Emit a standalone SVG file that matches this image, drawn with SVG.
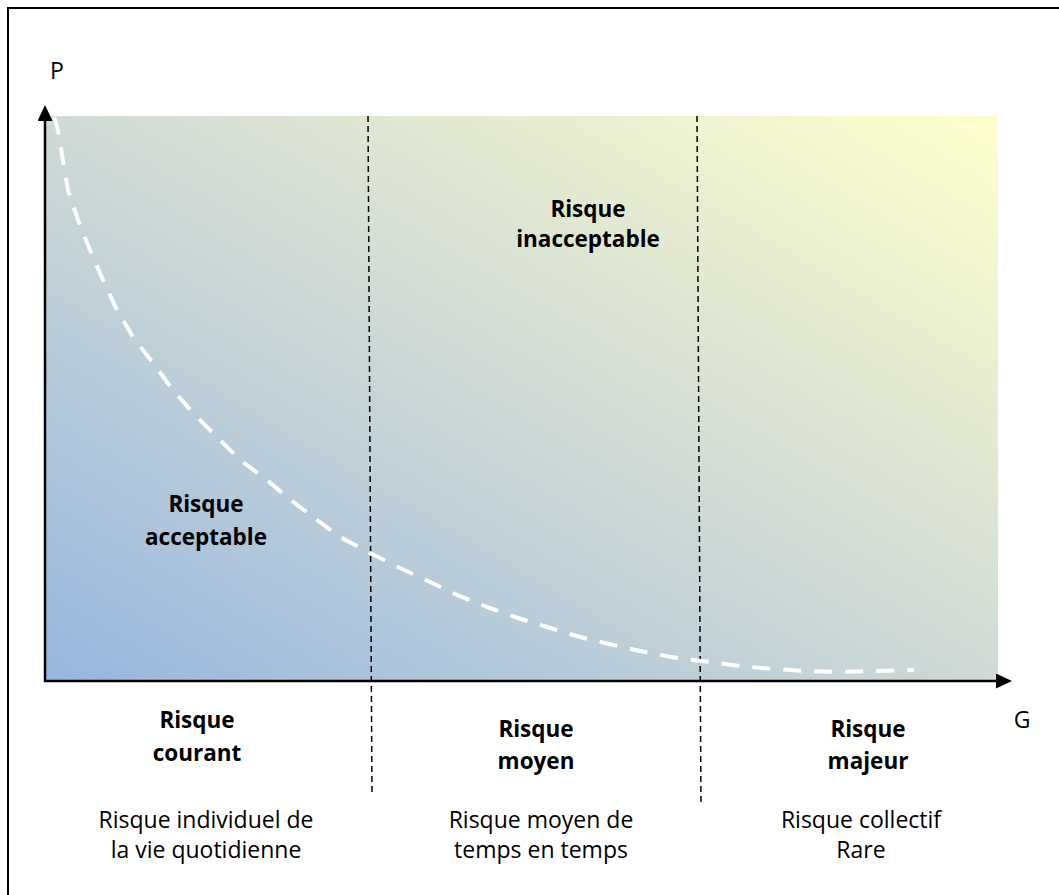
<svg xmlns="http://www.w3.org/2000/svg" width="1059" height="895" viewBox="0 0 1059 895">
<defs>
<linearGradient id="bg" x1="0" y1="1" x2="1" y2="0">
<stop offset="0" stop-color="#97b6de"/>
<stop offset="0.5" stop-color="#cfdad6"/>
<stop offset="1" stop-color="#ffffcc"/>
</linearGradient>
<marker id="arr" viewBox="0 0 16 15" refX="0" refY="7.5" markerWidth="16" markerHeight="15" markerUnits="userSpaceOnUse" orient="auto">
<path d="M0,0 L16,7.5 L0,15 Z" fill="#000"/>
</marker>
<style>
.b{font-family:"Open Sans",Lato,sans-serif;font-weight:bold;font-size:22.5px;fill:#000;text-anchor:middle}
.r{font-family:"Open Sans",Lato,sans-serif;font-size:23px;fill:#000;text-anchor:middle}
.sep{stroke:#000;stroke-width:1.5;stroke-dasharray:6 4;fill:none}
</style>
</defs>
<path d="M8,895 V8 H1059" fill="none" stroke="#000" stroke-width="2"/>
<rect id="plot" x="45" y="116" width="953" height="565" fill="url(#bg)"/>
<g id="connectors">
<line class="sep" x1="368" y1="116" x2="372" y2="794"/>
<line class="sep" x1="697" y1="116" x2="701" y2="805"/>
<path id="curve" d="M54,117 L58,130 L62,155 L68,190 L78,220 L90,250 L103,280 L117,310 L133,337 L153,363 L173,390 L193,413 L215,435 L240,460 L267,480 L287,497 L313,517 L340,537 L370,553 L400,568 L430,582 L457,595 L487,607 L518,618 L550,628 L580,637 L613,645 L645,652 L677,658 L710,662 L740,666 L773,669 L807,671 L840,672 L872,671 L914,670" fill="none" stroke="#fff" stroke-width="4" stroke-dasharray="18 13" stroke-linejoin="round"/>
<line id="yaxis" x1="45" y1="682" x2="45" y2="121" stroke="#000" stroke-width="2.5" marker-end="url(#arr)"/>
<line id="xaxis" x1="44" y1="681" x2="996" y2="681" stroke="#000" stroke-width="2.5" marker-end="url(#arr)"/>
</g>
<g id="label-P"><text class="r" x="57" y="79">P</text></g>
<g id="label-G"><text class="r" x="1022" y="728">G</text></g>
<g id="inacceptable"><text class="b" x="588" y="217">Risque</text><text class="b" x="588" y="247">inacceptable</text></g>
<g id="acceptable"><text class="b" x="206" y="512">Risque</text><text class="b" x="206" y="545">acceptable</text></g>
<g id="courant"><text class="b" x="197" y="728">Risque</text><text class="b" x="197" y="761">courant</text>
<text class="r" x="206" y="828">Risque individuel de</text><text class="r" x="206" y="858">la vie quotidienne</text></g>
<g id="moyen"><text class="b" x="536" y="737">Risque</text><text class="b" x="536" y="769">moyen</text>
<text class="r" x="541" y="828">Risque moyen de</text><text class="r" x="541" y="858">temps en temps</text></g>
<g id="majeur"><text class="b" x="868" y="737">Risque</text><text class="b" x="868" y="769">majeur</text>
<text class="r" x="861" y="828">Risque collectif</text><text class="r" x="861" y="858">Rare</text></g>
</svg>
